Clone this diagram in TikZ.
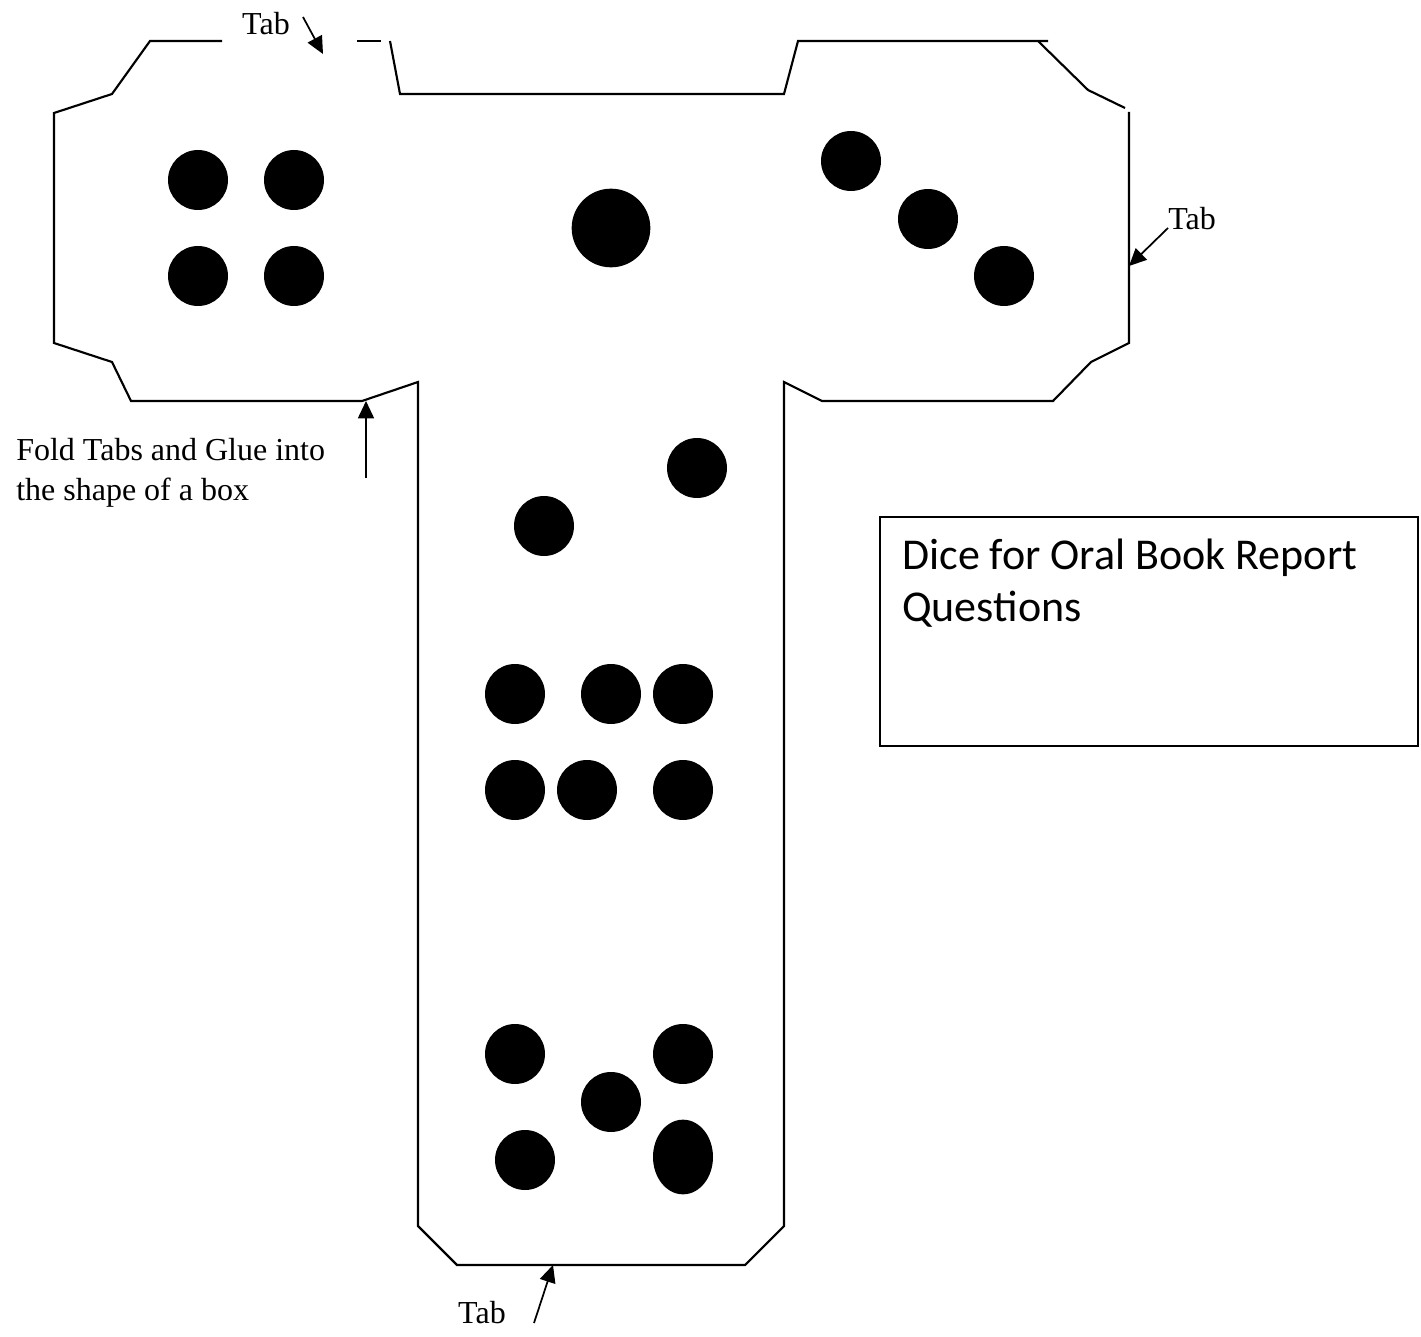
\documentclass[tikz,border=0pt]{standalone}
\usepackage{fontspec}
\setmainfont{Liberation Serif}
\newfontfamily\boxfont{Carlito}
\usetikzlibrary{arrows.meta}
\usetikzlibrary{positioning}
\usetikzlibrary{shapes.geometric}

\tikzset{
    cut/.style={line width=1.6pt, line join=miter},
    dot/.style={circle, fill, inner sep=0pt, minimum size=45pt},
    pointer/.style={line width=1.3pt, -{Triangle[length=13pt, width=12pt]}},
    note/.style={font=\fontsize{24}{30}\selectfont, inner sep=0pt, align=left},
}

\begin{document}
\begin{tikzpicture}[x=0.75pt, y=-0.75pt]

    \useasboundingbox (0,0) rectangle (1421,1337);

    % Outline of the net
    \draw[cut] (222,41) -- (150,41) -- (112,94) -- (54,113) -- (54,343) -- (112,362) -- (131,401)
        -- (362,401) -- (418,382) -- (418,1226) -- (457,1265) -- (745,1265) -- (784,1226)
        -- (784,382) -- (822,401) -- (1053,401) -- (1091,362) -- (1129,343) -- (1129,112);
    \draw[cut] (357,41) -- (381,41);
    \draw[cut] (390,41) -- (400,94) -- (784,94) -- (798,41) -- (1048,41);
    \draw[cut] (1038,41) -- (1088,90) -- (1125,108);

    % Face with four
    \node[dot] (d4a) at (198,180) {};
    \node[dot] (d4b) at (294,180) {};
    \node[dot] (d4c) at (198,276) {};
    \node[dot] (d4d) at (294,276) {};

    % Face with one
    \node[dot, minimum size=59pt] (d1a) at (611,228) {};

    % Face with three
    \node[dot] (d3a) at (851,161) {};
    \node[dot] (d3b) at (928,219) {};
    \node[dot] (d3c) at (1004,276) {};

    % Face with two
    \node[dot] (d2a) at (697,468) {};
    \node[dot] (d2b) at (544,526) {};

    % Face with six
    \node[dot] (d6a) at (515,694) {};
    \node[dot] (d6b) at (611,694) {};
    \node[dot] (d6c) at (683,694) {};
    \node[dot] (d6d) at (515,790) {};
    \node[dot] (d6e) at (587,790) {};
    \node[dot] (d6f) at (683,790) {};

    % Face with five
    \node[dot] (d5a) at (515,1054) {};
    \node[dot] (d5b) at (683,1054) {};
    \node[dot] (d5c) at (611,1102) {};
    \node[dot] (d5d) at (525,1160) {};
    \node[ellipse, fill, inner sep=0pt, minimum width=45pt, minimum height=56pt] (d5e) at (683,1157) {};

    % Labels
    \node[note] (tabtop) at (266,24) {Tab};
    \node[note] (tabright) at (1192,219) {Tab};
    \node[note] (tabbottom) at (482,1313) {Tab};
    \node[note, anchor=north west] (fold) at (16,438) {Fold Tabs and Glue into\\the shape of a box};

    % Arrows
    \coordinate (topfrom) at (303,17);
    \coordinate (topto) at (323,54);
    \coordinate (rightfrom) at (1168,228);
    \coordinate (rightto) at (1129,266);
    \coordinate (foldfrom) at (366,478);
    \coordinate (foldto) at (366,401);
    \coordinate (bottomfrom) at (534,1323);
    \coordinate (bottomto) at (553,1265);
    \draw[pointer] (topfrom) to (topto);
    \draw[pointer] (rightfrom) to (rightto);
    \draw[pointer] (foldfrom) to (foldto);
    \draw[pointer] (bottomfrom) to (bottomto);

    % Title box
    \node[draw, line width=1.2pt, anchor=north west, minimum width=403.8pt, minimum height=171.8pt] (titlebox) at (879,516) {};
    \node[anchor=north west, inner sep=0pt, align=left, font=\boxfont\fontsize{33}{39}\selectfont] (title) at (902,539) {Dice for Oral Book Report\\Questions};

\end{tikzpicture}
\end{document}
